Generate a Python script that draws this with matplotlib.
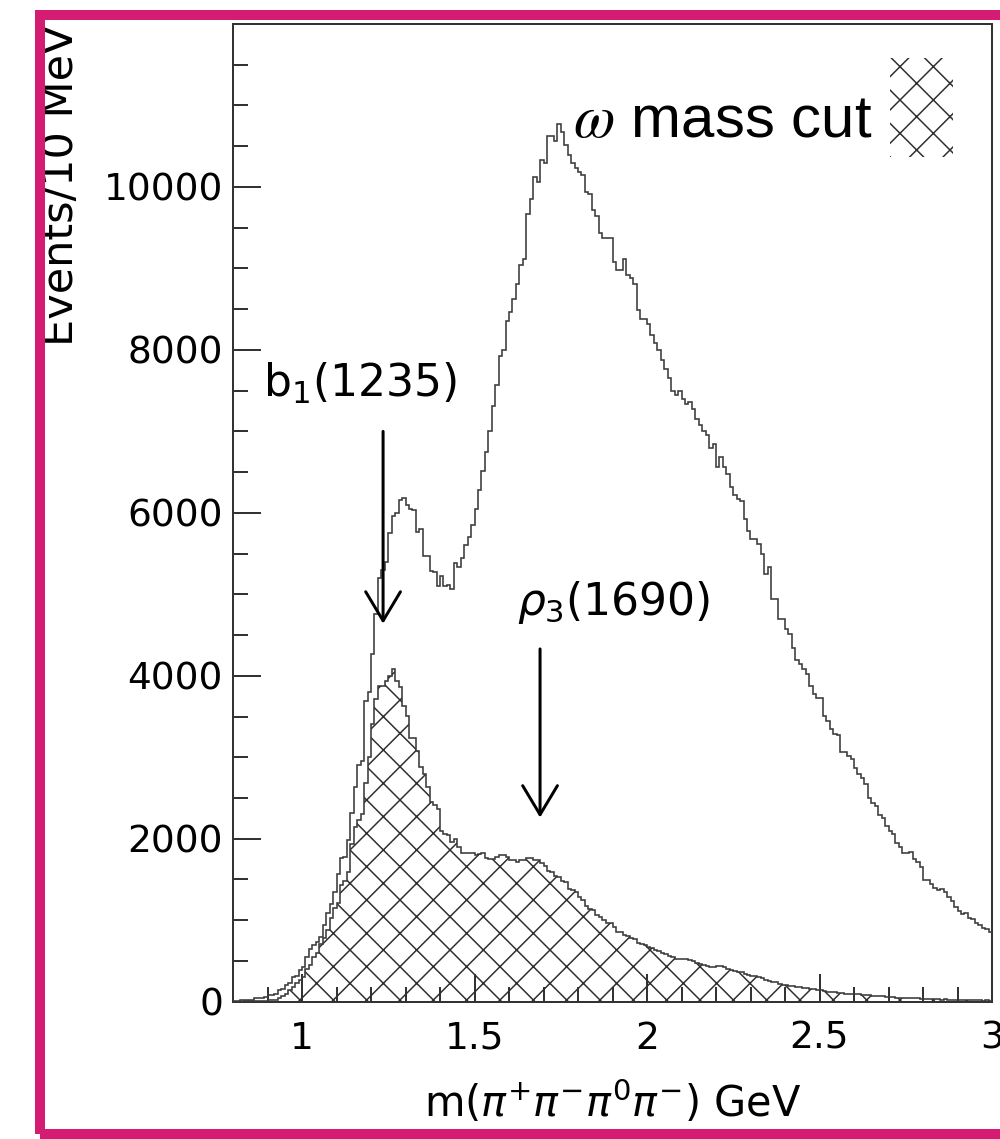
import numpy as np
import matplotlib
matplotlib.use("Agg")
import matplotlib.pyplot as plt
from matplotlib.patches import Rectangle
from matplotlib.ticker import FixedLocator, MultipleLocator
from matplotlib.font_manager import FontProperties

# ---------------- data (10 MeV bins from 0.80 to 3.00 GeV) ----------------
bin_start = 0.80
bin_width = 0.01

total_counts = [
    10, 10, 15, 15, 20, 25, 40, 45, 50, 55,
    80, 85, 100, 140, 150, 200, 230, 300, 320, 390,
    420, 550, 650, 700, 735, 800, 940, 1085, 1200, 1350,
    1570, 1760, 1780, 1980, 2310, 2630, 2900, 2950, 3690, 3800,
    4270, 4760, 5200, 5300, 5400, 5750, 5960, 6000, 6160, 6180,
    6100, 6050, 6040, 5770, 5800, 5470, 5470, 5290, 5280, 5100,
    5220, 5100, 5120, 5060, 5380, 5330, 5450, 5600, 5700, 5850,
    6050, 6280, 6510, 6750, 7000, 7310, 7570, 7920, 8000, 8350,
    8470, 8630, 8810, 9040, 9120, 9670, 9850, 10120, 10060, 10330,
    10300, 10630, 10630, 10570, 10770, 10670, 10510, 10390, 10290, 10230,
    10180, 10150, 9940, 9910, 9720, 9640, 9430, 9370, 9370, 9370,
    9080, 8980, 8980, 9120, 8920, 8880, 8810, 8490, 8380, 8380,
    8320, 8180, 8080, 8000, 7880, 7770, 7650, 7490, 7450, 7500,
    7400, 7340, 7360, 7270, 7150, 7080, 7000, 6950, 6790, 6850,
    6560, 6680, 6560, 6480, 6320, 6220, 6170, 6140, 5920, 5780,
    5680, 5680, 5620, 5490, 5250, 5330, 4940, 4940, 4700, 4700,
    4570, 4510, 4340, 4200, 4140, 4080, 4020, 3880, 3780, 3730,
    3730, 3510, 3450, 3350, 3290, 3270, 3060, 3060, 3020, 2980,
    2870, 2800, 2750, 2670, 2500, 2440, 2400, 2290, 2250, 2160,
    2100, 2060, 1950, 1900, 1830, 1830, 1840, 1750, 1720, 1650,
    1490, 1490, 1450, 1400, 1370, 1380, 1350, 1290, 1230, 1160,
    1110, 1080, 1090, 1030, 1010, 960, 940, 900, 890, 850,
]

omega_cut_counts = [
    0, 0, 0, 5, 5, 5, 5, 10, 10, 10,
    15, 20, 25, 40, 70, 100, 140, 180, 230, 270,
    300, 400, 450, 550, 600, 710, 780, 880, 1030, 1150,
    1210, 1430, 1480, 1590, 1940, 2140, 2230, 2300, 2690, 3000,
    3410, 3720, 3870, 3880, 3940, 4000, 4080, 3940, 3860, 3630,
    3510, 3240, 3240, 3080, 2880, 2800, 2630, 2450, 2420, 2370,
    2090, 2060, 2040, 1960, 2000, 1900, 1820, 1830, 1830, 1830,
    1800, 1810, 1820, 1760, 1750, 1750, 1780, 1800, 1800, 1780,
    1740, 1740, 1710, 1740, 1740, 1760, 1760, 1740, 1740, 1700,
    1660, 1610, 1590, 1540, 1530, 1480, 1470, 1380, 1370, 1350,
    1280, 1250, 1180, 1140, 1120, 1060, 1040, 1000, 960, 960,
    920, 850, 850, 820, 810, 780, 770, 720, 710, 690,
    670, 660, 630, 620, 600, 590, 560, 550, 530, 530,
    530, 520, 510, 500, 470, 460, 450, 440, 430, 430,
    440, 440, 420, 400, 390, 380, 370, 360, 340, 330,
    320, 310, 300, 290, 270, 250, 240, 240, 220, 210,
    200, 190, 190, 180, 180, 170, 170, 160, 150, 140,
    140, 130, 120, 120, 115, 110, 110, 100, 100, 95,
    100, 90, 85, 80, 80, 75, 70, 70, 65, 60,
    60, 55, 50, 50, 45, 45, 40, 45, 40, 35,
    35, 30, 35, 30, 30, 25, 30, 25, 20, 25,
    20, 20, 15, 20, 15, 15, 15, 10, 15, 10,
]

y_major_ticks = [0, 2000, 4000, 6000, 8000, 10000]
x_major_ticks = [1.0, 1.5, 2.0, 2.5, 3.0]
x_tick_labels = ["1", "1.5", "2", "2.5", "3"]

legend_label = r"$\omega$ mass cut"
b1_label = r"b$_1$(1235)"
rho3_label = r"$\rho_3$(1690)"
x_label = r"m($\pi^{+}\pi^{-}\pi^{0}\pi^{-}$) GeV"
y_label = "Events/10 MeV"

# annotation anchors (mass, events)
b1_text_pos = (0.887, 7430)
b1_arrow = (1.235, 7000, 4640)
rho3_text_pos = (1.623, 4750)
rho3_arrow = (1.690, 4330, 2260)

# ---------------- figure ----------------
W, H, DPI = 1000, 1139, 200


def pt(pixels):
    return pixels * 72.0 / DPI


plt.rcParams["hatch.linewidth"] = pt(1.5)
plt.rcParams["font.family"] = ["DejaVu Sans"]
plt.rcParams["mathtext.fontset"] = "dejavusans"

fig = plt.figure(figsize=(W / DPI, H / DPI), dpi=DPI)
fig.patch.set_facecolor("white")
AX_L, AX_R, AX_T, AX_B = 233, 992, 24, 1001.7
ax = fig.add_axes([AX_L / W, 1 - AX_B / H, (AX_R - AX_L) / W, (AX_B - AX_T) / H])


def ax_x(px):
    return (px - AX_L) / (AX_R - AX_L)


def ax_y(py):
    return (AX_B - py) / (AX_B - AX_T)


edges = bin_start + bin_width * np.arange(len(total_counts) + 1)
line_col = "#3a3a3a"
hatch_col = "#2e2e2e"

ax.stairs(omega_cut_counts, edges, fill=True, facecolor="none",
          edgecolor=hatch_col, hatch="xx", linewidth=0, zorder=2)
ax.stairs(omega_cut_counts, edges, fill=False, color=line_col,
          linewidth=pt(1.6), baseline=None, zorder=3)
ax.stairs(total_counts, edges, fill=False, color=line_col,
          linewidth=pt(1.6), baseline=None, zorder=3)

ax.set_xlim(0.8, 3.0)
ax.set_ylim(0, 12000)

ax.xaxis.set_major_locator(FixedLocator(x_major_ticks))
ax.set_xticklabels(x_tick_labels)
ax.xaxis.set_minor_locator(MultipleLocator(0.1))
ax.yaxis.set_major_locator(FixedLocator(y_major_ticks))
ax.yaxis.set_minor_locator(MultipleLocator(500))

for s in ax.spines.values():
    s.set_linewidth(pt(2))
    s.set_color("#333333")

tick_fs = pt(37.5)
ann_fs = pt(44)
ylab_fs = pt(43)
xlab_fs = pt(41.5)
ax.tick_params(which="both", direction="in", top=False, right=False,
               width=pt(2), color="#333333")
ax.tick_params(which="major", length=pt(28), labelsize=tick_fs)
ax.tick_params(which="minor", length=pt(15))
ax.tick_params(axis="x", which="major", pad=pt(19))
ax.tick_params(axis="y", which="major", pad=pt(10))

# axis labels
ax.set_xlabel(x_label, fontsize=xlab_fs)
ax.xaxis.label.set_va("baseline")
ax.xaxis.set_label_coords(0.5, ax_y(1117))

ax.set_ylabel(y_label, fontsize=ylab_fs)
ax.yaxis.label.set_rotation_mode("anchor")
ax.yaxis.label.set_ha("right")
ax.yaxis.label.set_va("baseline")
ax.yaxis.set_label_coords(ax_x(73), ax_y(25))

# annotations
ax.text(b1_text_pos[0], b1_text_pos[1], b1_label, fontsize=ann_fs,
        ha="left", va="baseline", zorder=5)
ax.text(rho3_text_pos[0], rho3_text_pos[1], rho3_label, fontsize=ann_fs,
        ha="left", va="baseline", zorder=5)

arrow_style = "->, head_length=%.2f, head_width=%.2f" % (pt(29), pt(29) * 0.6)
for (xa, ytop, ytip) in (b1_arrow, rho3_arrow):
    ax.annotate("", xy=(xa, ytip), xytext=(xa, ytop),
                arrowprops=dict(arrowstyle=arrow_style, color="black",
                                lw=pt(3), mutation_scale=1,
                                shrinkA=0, shrinkB=0),
                zorder=6)

# legend entry: label + hatched box (ROOT style, box right of text)
leg_fp = FontProperties(family="Liberation Sans", size=pt(60), math_fontfamily="stix")
ax.text(ax_x(872), ax_y(137), legend_label, fontproperties=leg_fp,
        ha="right", va="baseline", transform=ax.transAxes, zorder=5)
ax.add_patch(Rectangle((ax_x(890), ax_y(157)), ax_x(953) - ax_x(890),
                       ax_y(58) - ax_y(157), transform=ax.transAxes,
                       facecolor="none", edgecolor=hatch_col, hatch="xx",
                       linewidth=0, zorder=4))

# magenta frame around the picture
frame = Rectangle((40 / W, 1 - 1134 / H), 970 / W, (1134 - 15) / H,
                  transform=fig.transFigure, fill=False,
                  edgecolor="#D51C73", linewidth=pt(10), clip_on=False, zorder=10)
fig.add_artist(frame)

fig.savefig("out.png", dpi=DPI, facecolor="white")
